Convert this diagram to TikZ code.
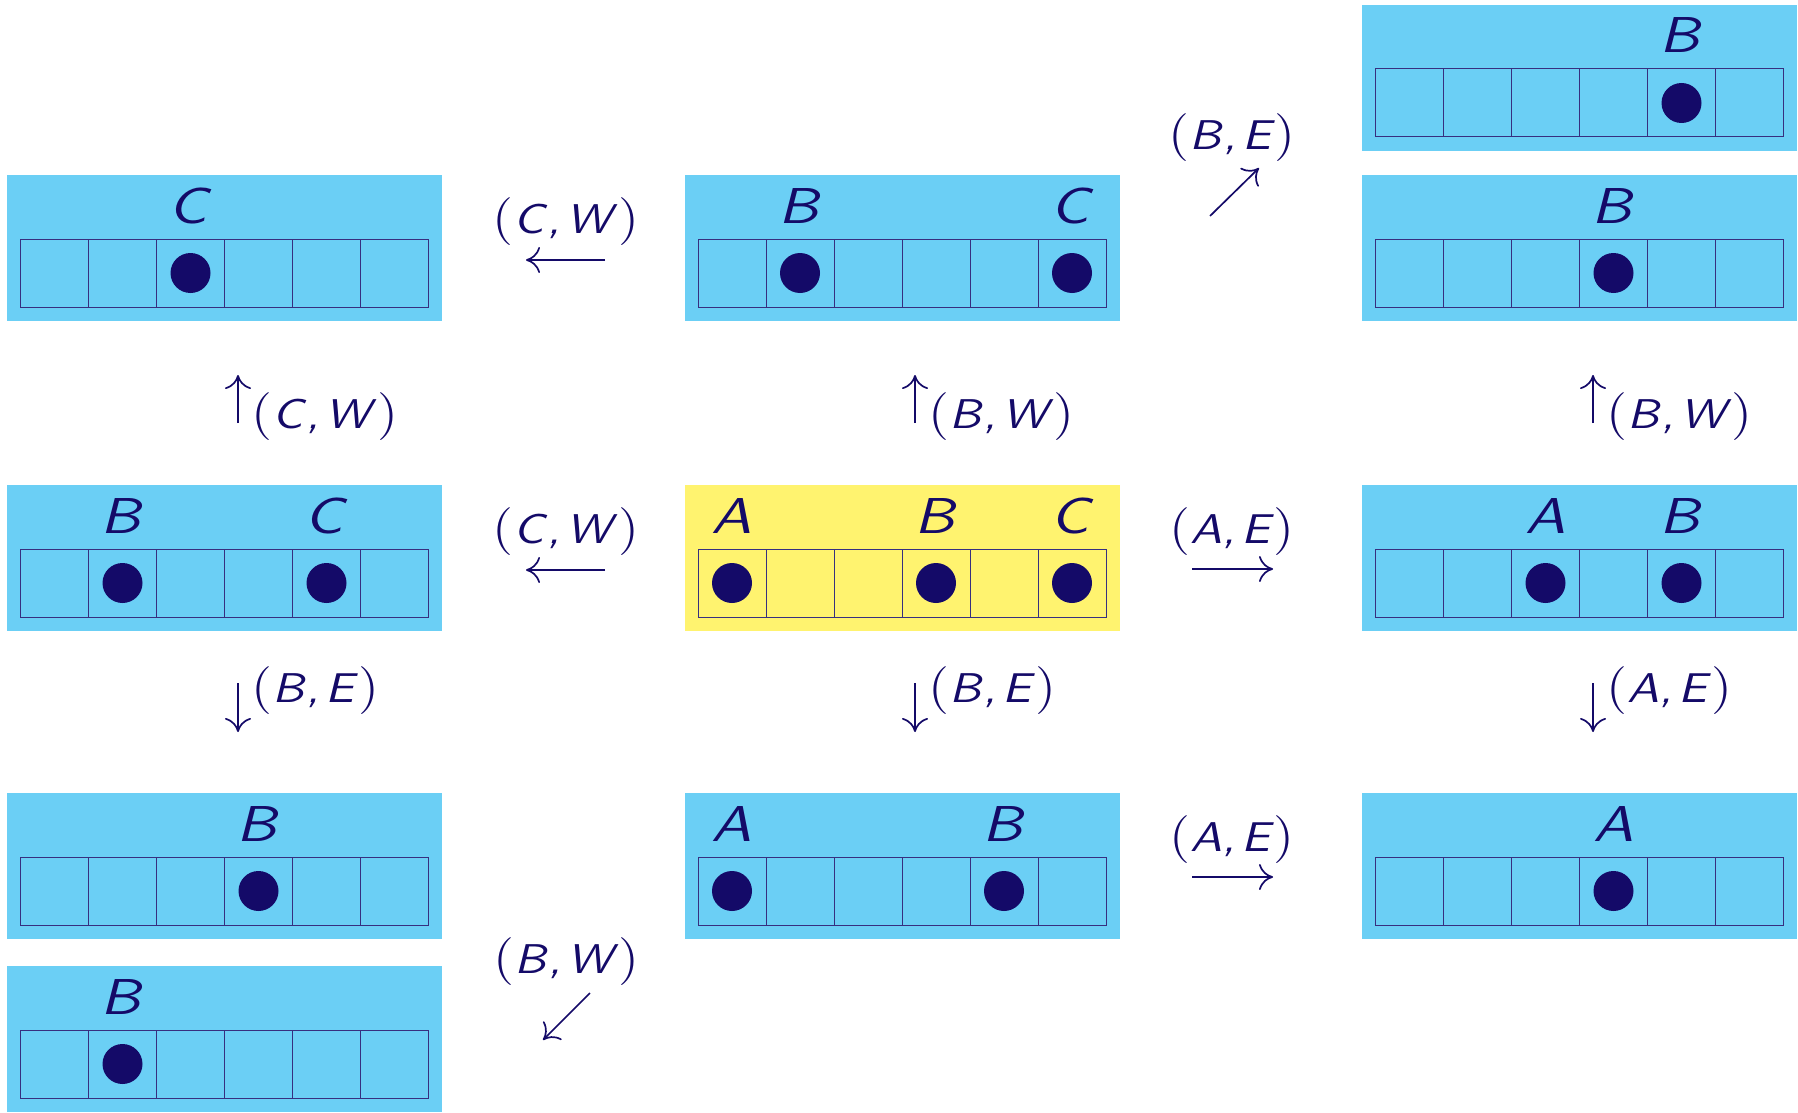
\documentclass[tikz,border=0pt]{standalone}
\usetikzlibrary{arrows.meta,calc}
\definecolor{navy}{RGB}{20,10,104}
\definecolor{skyfill}{RGB}{107,207,245}
\definecolor{yelfill}{RGB}{255,243,111}
\newcommand\lvar[1]{\textsf{\itshape #1}}
\newcommand\bigpar[1]{{\fontsize{11.5}{12}\selectfont\rmfamily #1}}
\newcommand\plab[2]{\scalebox{2.39}[2.08]{\fontsize{10}{12}\selectfont\bigpar{(}\lvar{#1}\lvar{,}\hspace{1.2pt}\lvar{#2}\bigpar{)}}}
\newcommand\boxlab[1]{\scalebox{3.02}[2.52]{\fontsize{10}{12}\selectfont\lvar{#1}}}
\tikzset{
  sbox/.style={rectangle, minimum width=217.5pt, minimum height=73pt, inner sep=0pt, outer sep=0pt, draw=none},
  cellbox/.style={rectangle, draw=navy!85, line width=0.5pt, minimum size=34pt, inner sep=0pt, outer sep=0pt},
  dotnode/.style={circle, fill=navy, minimum size=20pt, inner sep=0pt},
  blab/.style={text=navy, inner sep=0pt},
  alab/.style={text=navy, inner sep=0pt},
  arr/.style={draw=navy, line width=0.85pt, -{Computer Modern Rightarrow[length=7pt,width=13pt]}}
}
\newcommand\statebox[5]{%
  \node[sbox, fill=#4, anchor=north west] (#1) at (#2,#3) {};
  \foreach \i in {0,...,5}{
    \node[cellbox, anchor=north west] (#1-c\i) at ($(#1.north west)+(13.5+68*\i,64)$) {};
  }
  \foreach \k/\t in {#5}{
    \node[dotnode] (#1-d\k) at (#1-c\k.center) {};
    \node[blab, anchor=base] (#1-l\k) at ($(#1-c\k.center)+(0,-50)$) {\boxlab{\t}};
  }
}
\begin{document}
\begin{tikzpicture}[x=0.5pt,y=-0.5pt]
\useasboundingbox (0,0) rectangle (1798,1113);
\statebox{tr}{1362}{5}{skyfill}{4/B}
\statebox{l1}{7}{175}{skyfill}{2/C}
\statebox{m1}{684.5}{175}{skyfill}{1/B,5/C}
\statebox{r1}{1362}{175}{skyfill}{3/B}
\statebox{l2}{7}{485}{skyfill}{1/B,4/C}
\statebox{m2}{684.5}{485}{yelfill}{0/A,3/B,5/C}
\statebox{r2}{1362}{485}{skyfill}{2/A,4/B}
\statebox{l3}{7}{793}{skyfill}{3/B}
\statebox{m3}{684.5}{793}{skyfill}{0/A,4/B}
\statebox{r3}{1362}{793}{skyfill}{3/A}
\statebox{l4}{7}{966}{skyfill}{1/B}
% horizontal and diagonal arrows
\coordinate (h1s) at (605,260); \coordinate (h1e) at (526,260);
\coordinate (h2s) at (605,570); \coordinate (h2e) at (526,570);
\coordinate (h3s) at (1192,569); \coordinate (h3e) at (1273,569);
\coordinate (h4s) at (1192,877); \coordinate (h4e) at (1273,877);
\coordinate (d1s) at (1210,216); \coordinate (d1e) at (1259,168);
\coordinate (d2s) at (590,993); \coordinate (d2e) at (543,1040);
\draw[arr] (h1s) -- (h1e);
\draw[arr] (h2s) -- (h2e);
\draw[arr] (h3s) -- (h3e);
\draw[arr] (h4s) -- (h4e);
\draw[arr] (d1s) -- (d1e);
\draw[arr] (d2s) -- (d2e);
\node[alab, anchor=base] (t1) at (566,233) {\plab{C}{W}};
\node[alab, anchor=base] (t2) at (566,543) {\plab{C}{W}};
\node[alab, anchor=base] (t3) at (1232,543) {\plab{A}{E}};
\node[alab, anchor=base] (t4) at (1232,851) {\plab{A}{E}};
\node[alab, anchor=base] (t5) at (1232,149) {\plab{B}{E}};
\node[alab, anchor=base] (t6) at (566.5,973) {\plab{B}{W}};
% vertical arrows
\foreach \n/\x/\ua/\ub/\da/\db in {1/238/C/W/B/E, 2/915/B/W/B/E, 3/1593/B/W/A/E}{
  \coordinate (u\n s) at (\x,423); \coordinate (u\n e) at (\x,375);
  \coordinate (w\n s) at (\x,683); \coordinate (w\n e) at (\x,732);
  \draw[arr] (u\n s) -- (u\n e);
  \draw[arr] (w\n s) -- (w\n e);
  \node[alab, anchor=base west] (ut\n) at (\x+13,428) {\plab{\ua}{\ub}};
  \node[alab, anchor=base west] (wt\n) at (\x+13,702) {\plab{\da}{\db}};
}
\end{tikzpicture}
\end{document}
